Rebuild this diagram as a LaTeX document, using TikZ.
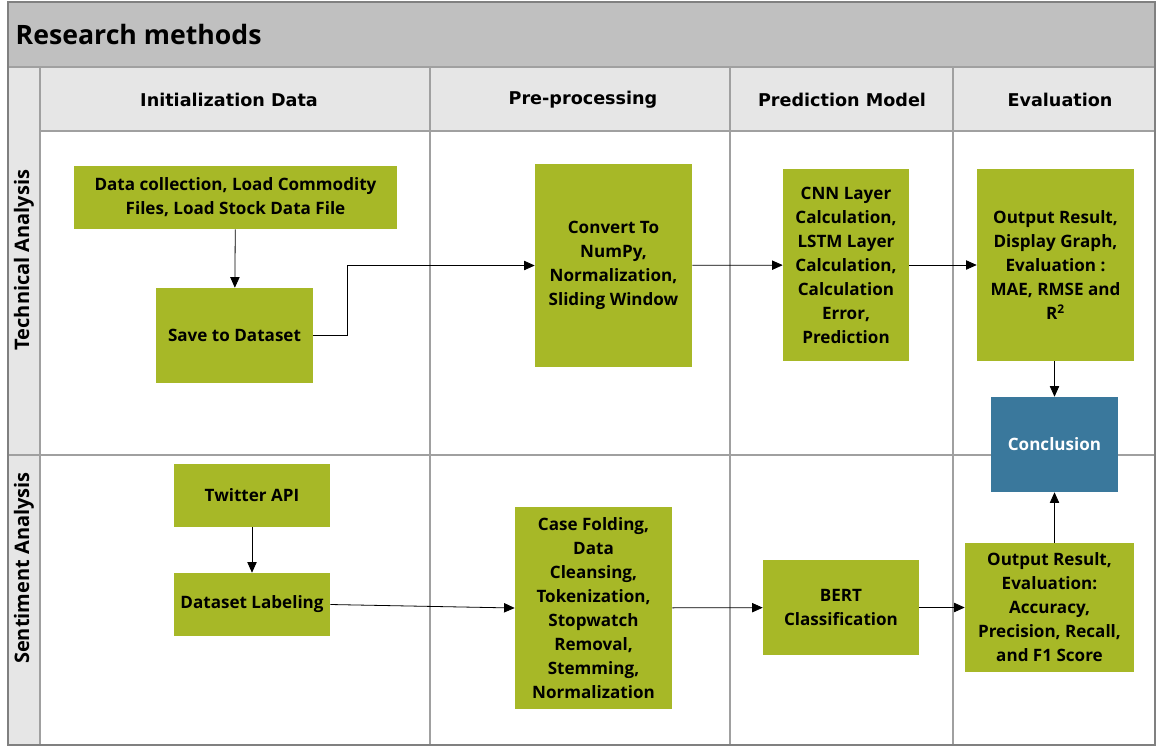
\documentclass[tikz,border=0pt]{standalone}
\usepackage{fontspec}
\setmainfont{Open Sans}
\newfontfamily\headfont{DejaVu Sans}
\usepackage{tikz}
\usetikzlibrary{arrows.meta,positioning}

\definecolor{boxgreen}{HTML}{A7B827}
\definecolor{boxblue}{HTML}{3A789C}
\definecolor{titlegray}{HTML}{C0C0C0}
\definecolor{headgray}{HTML}{E6E6E6}
\definecolor{gridgray}{HTML}{A0A0A0}

\begin{document}
\begin{tikzpicture}[x=0.75pt, y=-0.75pt,
        task/.style={rectangle, fill=boxgreen, align=center, inner sep=1pt,
            font=\bfseries\fontsize{12.8}{18}\selectfont},
        final/.style={task, fill=boxblue, text=white},
        lane/.style={rotate=90, font=\bfseries\fontsize{15}{18}\selectfont},
        phase/.style={font=\headfont\bfseries\fontsize{13.2}{16}\selectfont},
        grid/.style={draw=gridgray, line width=0.9pt},
        arrow/.style={-{Triangle[length=8pt,width=7pt]}, semithick}]

    \useasboundingbox (0,0) rectangle (1156,747);

    % frame, title bar and header row
    \fill[titlegray] (8,2) rectangle (1155,67);
    \fill[headgray] (40,67) rectangle (1155,131);
    \fill[headgray] (8,67) rectangle (40,745);
    \draw[grid] (8,67) -- (1155,67);
    \draw[grid] (40,131) -- (1155,131);
    \draw[grid] (8,455) -- (1155,455);
    \foreach \x in {40,430,730,953}
        \draw[grid] (\x,67) -- (\x,745);
    \draw[draw=gray, line width=1pt] (8,2) rectangle (1155,745);

    \node[anchor=west, font=\bfseries\fontsize{20}{24}\selectfont] (title) at (11,34) {Research methods};

    % phases and lanes
    \node[phase] (init) at (229,100) {Initialization Data};
    \node[phase] (prep) at (583,100) {Pre-processing};
    \node[phase] (pred) at (842,100) {Prediction Model};
    \node[phase] (eval) at (1060,100) {Evaluation};
    \node[lane] (tech) at (24,260) {Technical Analysis};
    \node[lane] (senti) at (24,568) {Sentiment Analysis};

    % technical analysis
    \node[task, minimum width=242.25pt, minimum height=47.25pt] (collect) at (235.5,197.5)
        {Data collection, Load Commodity\\Files, Load Stock Data File};
    \node[task, minimum width=117.75pt, minimum height=71.25pt] (save) at (234.5,335.5) {Save to Dataset};
    \node[task, minimum width=117.75pt, minimum height=152.25pt] (convert) at (613.5,265.5)
        {Convert To\\NumPy,\\Normalization,\\Sliding Window};
    \node[task, minimum width=94.5pt, minimum height=144pt] (cnn) at (846,265)
        {CNN Layer\\Calculation,\\LSTM Layer\\Calculation,\\Calculation\\Error,\\Prediction};
    \node[task, minimum width=117.75pt, minimum height=144pt] (result) at (1055.5,265)
        {Output Result,\\Display Graph,\\Evaluation :\\MAE, RMSE and\\R\textsuperscript{2}};
    \node[final, minimum width=95.25pt, minimum height=71.25pt] (conclusion) at (1054.5,444.5) {Conclusion};

    % sentiment analysis
    \node[task, minimum width=117pt, minimum height=47.25pt] (twitter) at (252,495.5) {Twitter API};
    \node[task, minimum width=117pt, minimum height=47.25pt] (label) at (252,604.5) {Dataset Labeling};
    \node[task, minimum width=117.75pt, minimum height=151.5pt] (clean) at (593.5,608)
        {Case Folding,\\Data\\Cleansing,\\Tokenization,\\Stopwatch\\Removal,\\Stemming,\\Normalization};
    \node[task, minimum width=117pt, minimum height=71.25pt] (bert) at (841,607.5) {BERT\\Classification};
    \node[task, minimum width=126.75pt, minimum height=96.75pt] (score) at (1049.5,607.5)
        {Output Result,\\Evaluation:\\Accuracy,\\Precision, Recall,\\and F1 Score};

    \draw[arrow] (collect) -- (save);
    \draw[arrow] (save.east) -- ++(34,0) |- (convert.west);
    \draw[arrow] (convert) -- (cnn);
    \draw[arrow] (cnn) -- (result);
    \draw[arrow] (result.south -| conclusion.north) -- (conclusion.north);
    \draw[arrow] (twitter) -- (label);
    \draw[arrow] (label.east) -- (clean.west);
    \draw[arrow] (clean) -- (bert);
    \draw[arrow] (bert) -- (score);
    \draw[arrow] (score.north -| conclusion.south) -- (conclusion.south);
\end{tikzpicture}
\end{document}
